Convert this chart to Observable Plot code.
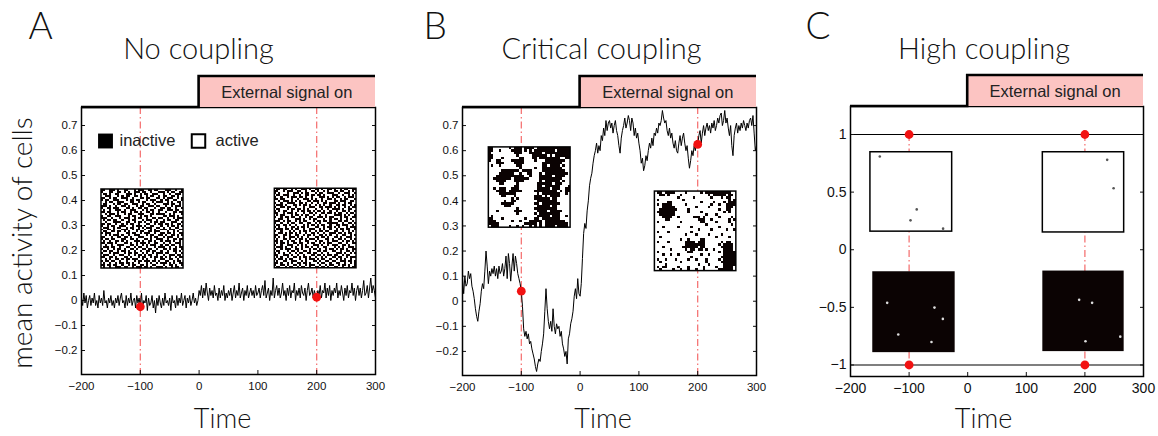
<!DOCTYPE html>
<html><head><meta charset="utf-8">
<script src="https://cdn.jsdelivr.net/npm/d3@7"></script>
<script src="https://cdn.jsdelivr.net/npm/@observablehq/plot@0.6"></script>
<style>
body{margin:0;background:#fff;}
#fig{position:relative;width:1158px;height:436px;overflow:hidden;background:#fff;}
#fig svg{position:absolute;top:0;}
</style></head><body><div id="fig"></div>
<script>
// ---------------- data ----------------
const timeStart = -200, timeStep = 2;
const activityA = [
 0.01,-0.02,0.03,-0.01,0.02,-0.03,0.00,0.02,-0.02,0.01,-0.01,0.03,-0.02,0.00,-0.03,0.02,-0.01,0.01,-0.02,0.04,-0.01,0.00,-0.03,0.01,-0.01,
 0.02,-0.02,0.00,-0.03,0.01,-0.01,0.02,-0.02,0.01,0.03,-0.01,0.00,-0.03,0.02,-0.02,0.01,-0.01,0.03,-0.02,0.00,0.01,-0.03,0.02,-0.01,0.01,
 -0.025,0.03,-0.03,0.00,-0.01,0.02,-0.04,0.01,-0.02,-0.01,0.02,-0.03,0.00,-0.05,0.01,-0.02,0.02,-0.01,-0.03,0.01,-0.02,0.03,-0.01,0.00,-0.02,
 0.01,-0.04,0.02,-0.01,0.00,-0.03,0.02,-0.02,0.01,-0.01,0.03,-0.02,0.00,0.02,-0.03,0.01,-0.01,0.02,-0.02,0.00,0.03,-0.01,0.01,-0.02,0.00,
 0.04,0.02,0.06,0.01,0.05,0.02,0.07,0.03,0.00,0.05,0.02,0.04,0.01,0.06,0.02,0.03,0.00,0.05,0.01,0.04,0.02,0.06,0.00,0.03,0.01,
 0.04,0.02,0.05,0.00,0.03,0.06,0.01,0.04,0.02,0.07,0.01,0.03,0.05,0.00,0.04,0.02,0.06,0.01,0.03,0.05,0.02,0.04,0.01,0.06,0.02,
 0.03,0.05,0.01,0.04,0.06,0.02,0.08,0.01,0.03,0.05,0.00,0.04,0.02,0.09,0.01,0.04,0.06,0.02,0.05,0.01,0.03,0.07,0.02,0.04,0.00,
 0.05,0.02,0.06,0.01,0.04,0.03,0.07,0.00,0.04,0.02,0.05,0.01,0.06,0.03,0.02,0.05,0.00,0.04,0.07,0.02,0.03,0.05,0.01,0.04,0.02,
 0.013,0.04,0.02,0.06,0.01,0.04,0.03,0.07,0.01,0.05,0.02,0.06,0.00,0.04,0.02,0.05,0.03,0.07,0.01,0.04,0.02,0.06,0.03,0.00,0.05,
 0.02,0.06,0.01,0.04,0.03,0.07,0.02,0.05,0.00,0.04,0.06,0.02,0.05,0.01,0.04,0.08,0.02,0.03,0.06,0.01,0.05,0.09,0.03,0.06,0.04,0.01
];
const activityB = [
 0.09,0.03,0.10,0.06,0.07,0.12,0.09,0.11,0.06,0.04,0.01,-0.03,-0.06,-0.08,-0.04,-0.01,0.04,0.07,0.05,0.12,0.20,0.14,0.07,0.12,0.10,
 0.13,0.11,0.14,0.10,0.13,0.09,0.14,0.11,0.12,0.15,0.10,0.13,0.18,0.09,0.19,0.15,0.08,0.14,0.19,0.12,0.18,0.15,0.11,0.09,0.07,
 0.04,-0.02,-0.11,-0.14,-0.12,-0.15,-0.13,-0.17,-0.16,-0.19,-0.21,-0.23,-0.26,-0.28,-0.25,-0.23,-0.24,-0.20,-0.17,-0.13,-0.04,0.05,-0.03,-0.08,-0.11,
 -0.08,-0.12,-0.03,-0.10,-0.13,-0.09,-0.11,-0.10,-0.14,-0.12,-0.17,-0.19,-0.22,-0.20,-0.25,-0.15,-0.13,-0.09,-0.07,-0.04,0.02,0.05,0.01,0.09,0.03,
 0.02,0.07,0.17,0.27,0.31,0.29,0.36,0.40,0.46,0.49,0.51,0.55,0.58,0.60,0.63,0.59,0.62,0.60,0.66,0.64,0.69,0.66,0.72,0.68,0.71,
 0.72,0.69,0.71,0.67,0.70,0.72,0.68,0.66,0.62,0.59,0.65,0.68,0.70,0.73,0.69,0.71,0.74,0.72,0.68,0.73,0.71,0.66,0.69,0.65,0.67,
 0.63,0.60,0.55,0.57,0.52,0.54,0.58,0.56,0.60,0.63,0.61,0.65,0.62,0.67,0.66,0.69,0.67,0.71,0.70,0.72,0.76,0.73,0.71,0.72,0.68,
 0.66,0.69,0.65,0.67,0.63,0.61,0.64,0.60,0.59,0.63,0.66,0.62,0.65,0.67,0.63,0.60,0.62,0.57,0.53,0.56,0.60,0.58,0.62,0.60,0.64,
 0.625,0.66,0.68,0.63,0.67,0.70,0.66,0.69,0.71,0.68,0.70,0.67,0.71,0.69,0.72,0.68,0.70,0.73,0.71,0.74,0.75,0.70,0.72,0.76,0.71,
 0.73,0.69,0.66,0.70,0.62,0.58,0.66,0.69,0.71,0.67,0.70,0.68,0.71,0.69,0.72,0.70,0.68,0.71,0.69,0.72,0.73,0.70,0.74,0.67,0.60,0.62
];
const levelsC = [1, -1];
const snapshotTimes = [-100, 200];
const signalOn = [0, 300];
const xTicks = [-200, -100, 0, 100, 200, 300];
const yTicksAB = [-0.2, -0.1, 0, 0.1, 0.2, 0.3, 0.4, 0.5, 0.6, 0.7];
const yTicksC = [-1, -0.5, 0, 0.5, 1];
const panelLetters = ["A", "B", "C"];
const panelTitles = ["No coupling", "Critical coupling", "High coupling"];
const signalLabel = "External signal on";
const xLabel = "Time";
const yLabel = "mean activity of cells";
const legendLabels = ["inactive", "active"];

// lattice snapshots ("#" = inactive cell, "." = active cell)
const latticeA1 = [
"##..###.#. .##...#.## #..##.##.. .###..#..#","#...##..## .#.#..###. ##..#...## #.#.##..##",
".##.#..##. ..###.#..# .##..###.. #..#..###.","..###...#. #.##..##.# ..#.##..#. ##..##.#..",
"##..#.##.. ###..#...# #.##...##. #.###..#.#","#.##..###. ..#.##.##. ..#.###..# .##..##..#",
"..#.##..## #...##..#. ##...#.### ..#.#..##.",".##...#.## .##..###.. #.##..#... ###.##..#.",
"###.#..#.. ##.#...#.# #..###.##. .#..#.###.","#..##.###. ..##.#..## .##...#..# #.##..#..#",
".#..#..### .#..###... #.#.##..## ..###.##..","##.##...#. ##..#.##.# ..##.#..#. .#...##.##",
"..#.###.#. .#.##...## #...##.### #..#.#...#","#..##..### ...#.##..# .##.#..... ##.###.#..",
"###..#...# .###..#.## ..#..##.## ..#..#.###",".#.##.##.. #..#.##... #.###..#.. #.##..##..",
"..#...#### ..##..#.## .#..#.##.# #...###..#","##.##..#.. #.#.##..#. ..##..#.## .##.#..##.",
"#..#.##..# ##...#.### .#..##...# ..#.##.#.#",".###..#.## ..#.##..#. #.###..##. #..#..##..",
"#..##.#... ###..#.##. .#..#.#..# ##.###..##",".##..##.## .#.#...#.# #..##.###. ..#..#.#..",
"#.###...#. ..##.##..# .###..#..# #.##.#..##","..#.#.###. #..#..###. ..#.##..## .#..##.#.#",
"##...#..## .##.#...## #...#.##.. #.###..#..","#.##.##... ##..##.#.. .##.#..### ..#..##.##",
".#..#..##. #.#...###. #..##.#..# .###.#..#.","##.###.#.. .##.#..#.# ##.#..##.. #..#..###.",
"..#..#..## #...##.#.. #.#.###..# .##.##..#.",".###.##..# ..##..#.## ..#...#.## #..#..#.##",
"#..#..#.## .#..##.#.. ##.##..#.. ##.#.##..#",".##.##..#. ##.#..#..# ..##.##..# ..#..##.#.",
"#...#.###. .#.##.##.. #.#..#.### .##...#..#",".###..#..# #..#..#.## .#.##..#.. #..###.##.",
"##..##.#.. .##.#...#. ##..#.##.# .#.#..#.##","..#.#..##. #.##.###.. #.#...#..# #..##..#..",
"#.##.##..# ..#...#.## .###.##.#. .##..#.##.",".#..#..#.# #.##.#..#. ..#.#..#.# ##.#.#..##",
"##.##.##.. #..#.##..# #.#..##... #..##.#..#",".#..#..### .##..#.### .##.#..### .#..#.##.."
];
const latticeA2 = [
".##.##..#. #..###.#.. ##.#..##.# ..#.##..##","##..#.###. .##..#..## .#..#.#..# #.##..#.#.",
"#.#...#..# ##.#.##... #.##..###. .#..###..#",".##.###..# ..#..##.## .##.#...## #..#..#.#.",
"#..#..#.## #.##.#..#. ..###.#.#. ##..#.###.","##.##...#. .#..###.#. #..#..##.# ..#.##...#",
"..#.###.#. #.#...##.# ##.#.#...# #.###..##.","#..#..#### ..##.#..#. .#..##.### .#..#.##..",
".###.#...# #.#.##.#.. #.#.#..#.. ##.##..#.#","#..##.##.. #...#..### ..##.###.# .#..#.#.##",
".##...#.## .##.#.#... #..#..#.## ##.#..##..","#.#.##..#. .#.##.##.# .##.#..#.. #..##.#..#",
"##..#.###. #...#..##. #..##.##.# .##..#.##.",".#.##...#. ##.#.##..# ..#..#...# ###.#.#..#",
"#..#.##.## ..#..#.##. .###.#.##. ..#.##..##","..##..#... ###.#..#.# #...#..#.# #.#..#.#..",
"###.#.##.. #.#.##...# .##.##.#.. .##.##..#.","#..#..#.## ..##..##.. #.#...#### #..#..##.#",
".##.##.#.. #...#.#.## .#.##..#.. ##.###..#.","#.#..#..## .#.##.#... ##..#.##.# .#...#.###",
".###.##.#. ##..#..### ..#.#..#.. #.##.##..#","#..#...#.# ..#.##.#.. #.##.##..# #..#..#.#.",
"..##.#.##. #.#..#..## .#..#..### .##.#.##..","##..##.#.. ##..#.##.# ..##.#.#.. #..##..#.#",
"#.#.#..### .#.#..#... ##.##.#..# #.#..###..",".#..##.#.. #.##.#.### .#...##.#. .##.#..#.#",
"##.#..#.## ..#..##... #.##..#.## #..#.##.#.",".#.##.#..# #.##..#.## ..#.#.##.. .##..#..##",
"#..#..###. .#.#.#...# ##.#..#.## #..##.#...",".###.#..#. #..#.##.#. .#..##...# .#.#..###.",
"#..#.###.. ##.#...#.# #.#..#.##. #.##.#..##",".##...#.## .#..##.#.. .##.##..## ..#..##.#.",
"#.#.#..#.. #.##..##.# #..#..#... ###.#..#.#","##..###.#. .#..#...## .##.#.##.# #..#.##...",
".#.#..#..# #.#.##.#.. #..#.#..## .##..#.###","#.##.#.##. ..#..#.### .#.##..#.. #.#.#..#..",
".#..##..## #..#.#...# #.#..##.## ..###.##.#","##.#..#.#. .##.##.#.. .#.##..#.. ##..#..#.#",
"#..##.#..# #.#..#.### ..#..#.##. .#.##.#..#",".##..#.##. .#.##..#.. ##.##.#..# #..#..#.##"
];
const latticeB1 = [
"##...... #.###.## ##.##### ########","##..#... .####.#. #.###### ##.#####",
"#....... ..###... #####.## ########","##...... ...#.... .######. #.######",
"##...#.. ....##.. .##.#### ####..##","#..##... .#####.. ..#...## ######..",
"...###.. ..####.. .....### #####...",".#..#... ...##... .....##. ####.#..",
"........ ....#... ..#..### #####...",".....### ####.### #....### ######..",
"....#### ##..#..# #...#.## #######.","...##### ######.. #...#### #.####..",
"..###### #.###### ....#### #####...","...####. ..####.. ....#.## ####.#..",
"....##.. ...#.... ...##### #.###...","........ ..##.... ...##.## ####...#",
"..#.###. .###.... ...##### .###..##","...####. #####... ..###### ###.#.##",
"....#### ###..... ...#.### ####..#.",".....##. ..#..... ..###.#. ####....",
"........ .#.#.... ..###### .##.....","......#. .##..... ...##### ###.....",
".....### ##...... ..##.### ####....","......## #....... ...##### .##.....",
"........ ...#.... ..###### ###.....","...#.... ..###... ...####. #####...",
"........ ...#.... ..#.#### ####....",".#...... ........ ...##### .###..#.",
"##...#.. ......#. ..##.### ####....","###..... .#..#... #####.## ######..",
"####.... ......## ###.#.## #######.",".###.... #..#.#.. #.#.#.## ##.####."
];
const latticeB2 = [
".##.#### ....#... ..#.#### ######..","..##.#.. ..#..... .....#.# ####.##.",
"........ .#.....# ......#. ..#.##..",".#...... ...#.... ........ .....#.#",
".....##. ........ ..#....# ...#.###",".#.####. ....#... ......#. .#..####",
"...##### ........ #....#.. ....###.","..###### #....#.. ........ .#..##..",
".####### .....#.. ..#..... ...#.#..","..###### ........ ....#... #.......",
"...####. .#.....# ##.#.... .#....#.","....##.. ........ .###..#. .....#.#",
".#...... ..#..... ..##.... #....#..","........ ........ ....#... ......#.",
"...#.... .#....#. ........ .#......","........ ........ .#....#. ....#..#",
".#...#.. ......#. ........ ........","........ ....#... #....#.. ..#.....",
"..#..... ........ ........ #....#..","........ ..#..#.. ..##.... ........",
".#...#.. ....#### .###.... ..#.##..","........ ....#### ####.... .#.####.",
"...#.... ...##### #.##.... ..#####.","......#. ....#.## .##.#..# ...####.",
".#...... .....##. ........ .#.#####","...#..#. .#...... ..#..#.. ...#####",
"........ ......#. ........ ..######",".#..#... #....#.. #...#... .#.#####",
"..#..... ..#..... ....#... ..######","....#... ........ .#...#.. ...#####",
".#.##... .#...#.. ...#.... #..####.","..#....# ..#..#.. #..#.... .######."
];
// specks in the high-coupling snapshots (time, activity position inside the inset)
const specksOnWhiteC = [[-150, 0.809], [-87, 0.35], [-97.6, 0.255], [-42, 0.183], [238, 0.78], [249, 0.533]];
const specksOnBlackC = [[-137.4, -0.461], [-56.7, -0.502], [-42.4, -0.6], [-118.5, -0.736], [-61.8, -0.8],
                        [190.2, -0.435], [212.3, -0.461], [201, -0.794], [260.4, -0.754]];

// ---------------- layout (inset boxes in data units) ----------------
const insetBoxesA = [{x1: -166, x2: -26.5, y1: 0.444, y2: 0.128}, {x1: 128.8, x2: 267.7, y1: 0.447, y2: 0.129}];
const insetBoxesB = [{x1: -155.2, x2: -16.2, y1: 0.613, y2: 0.293}, {x1: 127.2, x2: 265.7, y1: 0.437, y2: 0.12}];
const whiteBoxesC = [{x1: -166, x2: -26.5, y1: 0.846, y2: 0.157}, {x1: 128.2, x2: 267, y1: 0.846, y2: 0.15}];
const blackBoxesC = [{x1: -162, x2: -21.4, y1: -0.191, y2: -0.893}, {x1: 128.2, x2: 267, y1: -0.185, y2: -0.884}];

// ---------------- helpers ----------------
const fig = document.getElementById("fig");
const RED = "#f21212", DASH_RED = "#f46a6a", PINK = "#fcc4c2", INK = "#0b0303";
const bigFont = "Lato, 'Liberation Sans', sans-serif";
const smallFont = "'Liberation Sans', Arial, sans-serif";
const fmt = d => (d < 0 ? "\u2212" : "") + Math.abs(d);
const xDomain = d3.extent(xTicks);
const series = vals => vals.map((v, i) => ({t: timeStart + i * timeStep, v}));
const valueAt = (vals, t) => vals[Math.round((t - timeStart) / timeStep)];

function latticeCells(rows, box) {
  const grid = rows.map(r => r.replace(/ /g, ""));
  const m = grid[0].length, n = grid.length;
  const w = (box.x2 - box.x1) / m, h = (box.y1 - box.y2) / n;
  const cells = [];
  grid.forEach((row, i) => {
    const r = row.padEnd(m, ".");
    for (let j = 0; j < m; j++) if (r[j] === "#")
      cells.push({x1: box.x1 + j * w, x2: box.x1 + (j + 1) * w, y1: box.y1 - i * h, y2: box.y1 - (i + 1) * h});
  });
  return cells;
}
const boxOpts = {x1: "x1", x2: "x2", y1: "y1", y2: "y2"};
function latticeMarks(rows, box) {
  return [
    Plot.rect([box], {...boxOpts, fill: "white"}),
    Plot.rect(latticeCells(rows, box), {...boxOpts, fill: INK, shapeRendering: "crispEdges"}),
    Plot.rect([box], {...boxOpts, fill: "none", stroke: "black", strokeWidth: 1.5})
  ];
}

function signalMark(barH, fontSize) {
  return (index, scales, values, dims) => {
    const x = scales.x;
    const g = d3.create("svg:g");
    const xs = x(signalOn[0]), xe = x(signalOn[1]);
    const yb = dims.marginTop, yt = dims.marginTop - barH;
    g.append("rect").attr("x", xs).attr("y", yt).attr("width", xe - xs).attr("height", barH).attr("fill", PINK);
    g.append("path").attr("d", `M${dims.marginLeft},${yb}H${xs}V${yt}H${xe}`)
      .attr("fill", "none").attr("stroke", "black").attr("stroke-width", 2.6);
    g.append("text").attr("x", (xs + xe) / 2).attr("y", yt + barH / 2 + 1).attr("dy", "0.35em")
      .attr("text-anchor", "middle").attr("font-family", smallFont).attr("font-size", fontSize)
      .attr("fill", "#222").text(signalLabel);
    return g.node();
  };
}

function makePanel(p) {
  const T = (txt, o) => Plot.text([txt], {text: d => d, fill: "#111", ...o});
  const svg = Plot.plot({
    width: 386, height: 436,
    marginLeft: p.ml, marginRight: p.mr, marginTop: p.mt, marginBottom: p.mb,
    x: {domain: xDomain},
    y: {domain: p.yDomain},
    style: {fontFamily: smallFont, fontSize: p.tickFont + "px", color: "#111", background: "transparent", overflow: "visible"},
    marks: [
      ...p.marks,
      Plot.axisX({ticks: xTicks, tickFormat: fmt, tickSize: -4, tickPadding: 11, label: null}),
      Plot.axisY({ticks: p.yTicks, tickFormat: fmt, tickSize: -4, tickPadding: 8, label: null}),
      Plot.axisY({anchor: "right", ticks: p.yTicks, tickFormat: () => "", tickSize: -4, label: null}),
      Plot.frame({stroke: "black", strokeWidth: 1.5}),
      signalMark(31, 16.5),
      T(p.letter, {frameAnchor: "top-left", dx: p.letterX - p.ml, dy: 38 - p.mt, fontSize: 37, fontFamily: bigFont, fontWeight: 300, textAnchor: "start", lineAnchor: "bottom"}),
      T(p.title, {frameAnchor: "top-left", dx: p.titleX - p.ml, dy: 58 - p.mt, fontSize: 29, fontFamily: bigFont, fontWeight: 300, textAnchor: "middle", lineAnchor: "bottom"}),
      T(xLabel, {frameAnchor: "bottom-left", dx: p.timeX - p.ml, dy: 427 - (436 - p.mb), fontSize: 27, fontFamily: bigFont, fontWeight: 300, textAnchor: "middle", lineAnchor: "bottom"}),
      ...(p.extra || [])
    ]
  });
  svg.style.left = p.left + "px";
  fig.append(svg);
}

// ---------------- panel A ----------------
makePanel({
  left: 0, ml: 81, mr: 11, mt: 107, mb: 62, letter: panelLetters[0], title: panelTitles[0],
  letterX: 28, titleX: 198, timeX: 222, yDomain: [-0.296, 0.772], yTicks: yTicksAB, tickFont: 11.5,
  marks: [
    Plot.ruleX(snapshotTimes, {stroke: DASH_RED, strokeWidth: 1.2, strokeDasharray: "7,3,1.5,3"}),
    ...latticeMarks(latticeA1, insetBoxesA[0]),
    ...latticeMarks(latticeA2, insetBoxesA[1]),
    Plot.line(series(activityA), {x: "t", y: "v", stroke: "black", strokeWidth: 1}),
    Plot.dot(snapshotTimes, {x: d => d, y: d => valueAt(activityA, d), r: 4.4, fill: RED}),
    Plot.dot([0], {frameAnchor: "top-left", dx: 24, dy: 33.5, symbol: "square", r: 8.4, fill: "black"}),
    Plot.dot([0], {frameAnchor: "top-left", dx: 117, dy: 33.5, symbol: "square", r: 7.6, fill: "white", stroke: "black", strokeWidth: 2}),
    Plot.text([legendLabels[0]], {text: d => d, frameAnchor: "top-left", dx: 38, dy: 33, fontSize: 16.5, fill: "#222", textAnchor: "start", lineAnchor: "middle"}),
    Plot.text([legendLabels[1]], {text: d => d, frameAnchor: "top-left", dx: 134, dy: 33, fontSize: 16.5, fill: "#222", textAnchor: "start", lineAnchor: "middle"})
  ],
  extra: [
    Plot.text([yLabel], {text: d => d, frameAnchor: "left", dx: 31 - 81, dy: 2, rotate: -90, fontSize: 28, fontFamily: bigFont, fontWeight: 300, fill: "#111", textAnchor: "middle", lineAnchor: "bottom"})
  ]
});

// ---------------- panel B ----------------
makePanel({
  left: 386, ml: 76, mr: 16, mt: 107, mb: 61, letter: panelLetters[1], title: panelTitles[1],
  letterX: 37, titleX: 215, timeX: 216.5, yDomain: [-0.296, 0.772], yTicks: yTicksAB, tickFont: 11.5,
  marks: [
    Plot.ruleX(snapshotTimes, {stroke: DASH_RED, strokeWidth: 1.2, strokeDasharray: "7,3,1.5,3"}),
    ...latticeMarks(latticeB1, insetBoxesB[0]),
    ...latticeMarks(latticeB2, insetBoxesB[1]),
    Plot.line(series(activityB), {x: "t", y: "v", stroke: "black", strokeWidth: 1}),
    Plot.dot(snapshotTimes, {x: d => d, y: d => valueAt(activityB, d), r: 4.4, fill: RED})
  ]
});

// ---------------- panel C ----------------
const dotsC = snapshotTimes.flatMap(t => levelsC.map(v => ({t, v})));
makePanel({
  left: 772, ml: 78, mr: 15, mt: 106, mb: 60, letter: panelLetters[2], title: panelTitles[2],
  letterX: 33, titleX: 211.5, timeX: 211, yDomain: [-1.1, 1.243], yTicks: yTicksC, tickFont: 14,
  marks: [
    Plot.ruleX(snapshotTimes, {y1: levelsC[0], y2: levelsC[1], stroke: DASH_RED, strokeWidth: 1.2, strokeDasharray: "7,3,1.5,3"}),
    Plot.rect(whiteBoxesC, {...boxOpts, fill: "white", stroke: "black", strokeWidth: 1.5}),
    Plot.rect(blackBoxesC, {...boxOpts, fill: INK}),
    Plot.dot(specksOnWhiteC, {x: "0", y: "1", r: 1.3, fill: "#555"}),
    Plot.dot(specksOnBlackC, {x: "0", y: "1", r: 1.3, fill: "#ddd"}),
    Plot.ruleY(levelsC, {stroke: "black", strokeWidth: 1.2}),
    Plot.dot(dotsC, {x: "t", y: "v", r: 4.4, fill: RED})
  ]
});
</script></body></html>
